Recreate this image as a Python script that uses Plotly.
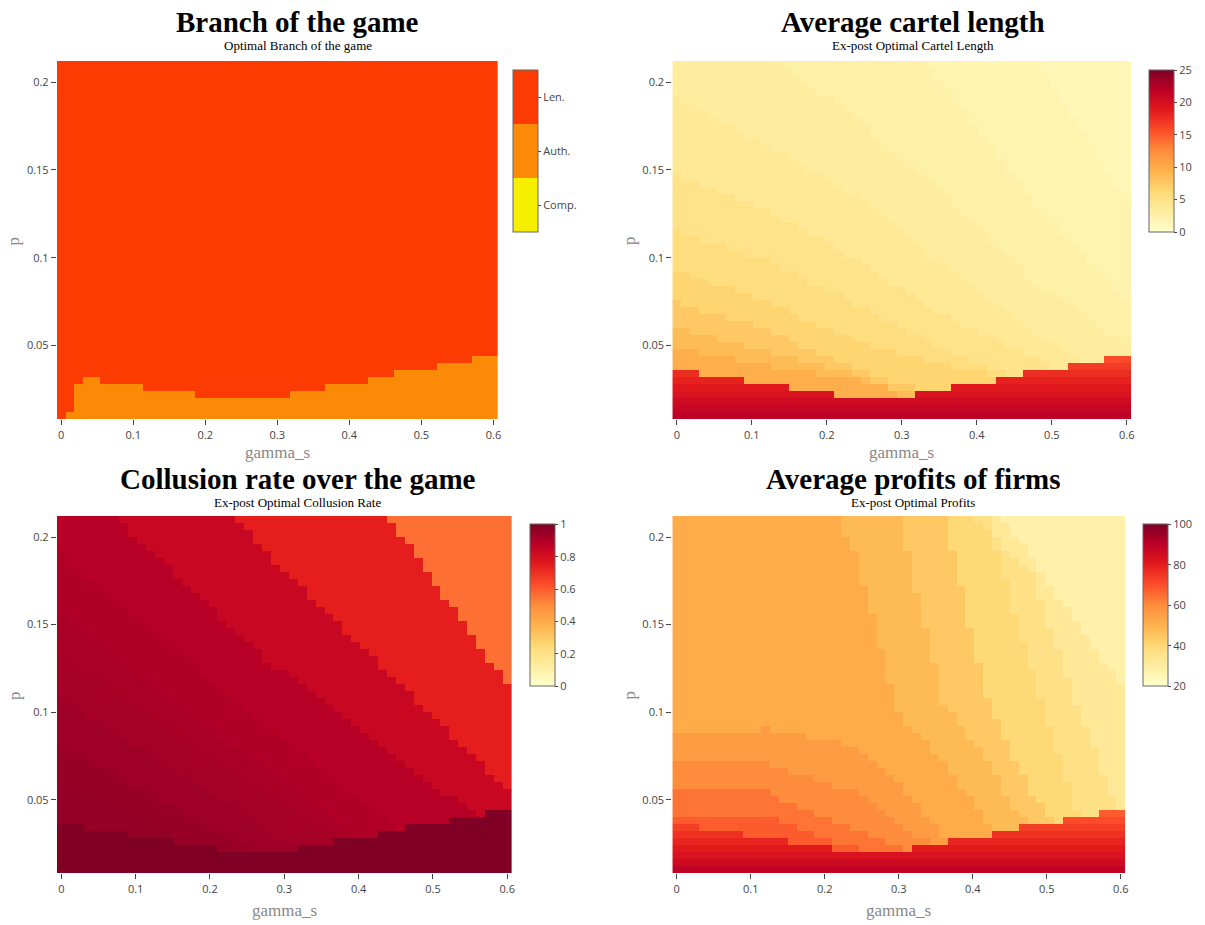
import numpy as np
import plotly.graph_objects as go
import plotly.colors as pc

W, H = 1205, 925

# ---------------------------------------------------------------- grid
gamma_s = [round(0.012 * k, 3) for k in range(51)]
p_vals = [round(0.01 + 0.004 * k, 3) for k in range(51)]

# rows (counted from p = 0.01) where the authority branch is optimal
auth_rows = [0, 1, 5, 6, 6, 5, 5, 5, 5, 5,
             4, 4, 4, 4, 4, 4, 3, 3, 3, 3,
             3, 3, 3, 3, 3, 3, 3, 4, 4, 4,
             4, 5, 5, 5, 5, 5, 6, 6, 6, 7,
             7, 7, 7, 7, 8, 8, 8, 8, 9, 9, 9]

# rows (counted from p = 0.01) of the ex-post high-collusion region
high_rows = [7, 7, 7, 6, 6, 6, 6, 6, 5, 5,
             5, 5, 5, 4, 4, 4, 4, 4, 3, 3,
             3, 3, 3, 3, 3, 3, 3, 4, 4, 4,
             4, 5, 5, 5, 5, 5, 6, 6, 6, 7,
             7, 7, 7, 7, 8, 8, 8, 8, 9, 9, 9]

branch_names = ["Comp.", "Auth.", "Len."]

# ---------------------------------------------------------------- cartel length
length_levels = [1.5, 2.0, 2.6, 3.2, 3.9, 4.7, 5.6, 6.6, 7.6, 8.6, 9.6]
length_high = [21.8, 21.2, 20.5, 19.6, 19.0, 18.3, 17.6, 16.7, 15.8]
length_iso = [
    ([0, 0.456, 0.6], [0.288, 0.228, 0.134]),
    ([0, 0.324, 0.36, 0.48, 0.6], [0.328, 0.212, 0.196, 0.129, 0.076]),
    ([0, 0.132, 0.24, 0.36, 0.48, 0.6], [0.248, 0.212, 0.179, 0.134, 0.085, 0.051]),
    ([0, 0.12, 0.24, 0.36, 0.48, 0.6], [0.191, 0.164, 0.134, 0.094, 0.056, 0.028]),
    ([0, 0.12, 0.24, 0.36, 0.48, 0.6], [0.148, 0.127, 0.099, 0.066, 0.042, 0.008]),
    ([0, 0.12, 0.24, 0.36, 0.48, 0.6], [0.114, 0.098, 0.073, 0.047, 0.028, 0.008]),
    ([0, 0.12, 0.24, 0.36, 0.432, 0.6], [0.093, 0.075, 0.052, 0.038, 0.032, 0.008]),
    ([0, 0.12, 0.24, 0.312, 0.36, 0.6], [0.074, 0.059, 0.036, 0.026, 0.020, 0.008]),
    ([0, 0.12, 0.24, 0.3, 0.36, 0.6], [0.060, 0.047, 0.033, 0.024, 0.016, 0.008]),
    ([0, 0.12, 0.24, 0.276, 0.312, 0.6], [0.049, 0.038, 0.030, 0.026, 0.016, 0.008]),
]

# ---------------------------------------------------------------- collusion rate
collusion_levels = [0.56, 0.74, 0.84, 0.885, 0.90, 0.912, 0.924, 0.936, 0.948, 0.958]
collusion_high = [1.0, 1.0, 1.0, 1.0, 1.0, 1.0, 1.0, 1.0, 1.0]
collusion_iso = [
    ([0, 0.438, 0.606], [0.472, 0.212, 0.112]),
    ([0, 0.234, 0.282, 0.6], [0.328, 0.212, 0.188, 0.056]),
    ([0, 0.071, 0.269, 0.528, 0.6], [0.240, 0.212, 0.132, 0.050, 0.028]),
    ([0, 0.293, 0.456, 0.6], [0.190, 0.086, 0.032, 0.008]),
    ([0, 0.24, 0.408, 0.6], [0.154, 0.078, 0.025, 0.008]),
    ([0, 0.24, 0.396, 0.6], [0.132, 0.064, 0.020, 0.008]),
    ([0, 0.24, 0.324, 0.6], [0.107, 0.043, 0.020, 0.008]),
    ([0, 0.18, 0.264, 0.6], [0.080, 0.038, 0.020, 0.008]),
    ([0, 0.204, 0.6], [0.060, 0.019, 0.008]),
]

# ---------------------------------------------------------------- profits
profit_levels = [28, 32, 36, 40, 44, 48, 52, 56, 60, 64, 68]
profit_high = [89, 86, 83, 80.5, 78, 75.5, 73, 70.5, 68]
profit_iso = [
    ([0, 0.438, 0.606], [0.488, 0.212, 0.112]),
    ([0, 0.396, 0.48, 0.54, 0.6], [0.408, 0.212, 0.180, 0.104, 0.040]),
    ([0, 0.42, 0.48, 0.54, 0.6], [0.408, 0.212, 0.122, 0.044, 0.008]),
    ([0, 0.36, 0.42, 0.48, 0.528, 0.6], [0.408, 0.212, 0.108, 0.051, 0.032, 0.008]),
    ([0, 0.3, 0.36, 0.42, 0.456, 0.504, 0.6], [0.408, 0.212, 0.105, 0.073, 0.044, 0.024, 0.008]),
    ([0, 0.216, 0.24, 0.3, 0.36, 0.42, 0.48, 0.6], [0.408, 0.212, 0.191, 0.099, 0.072, 0.036, 0.020, 0.008]),
    ([0, 0.12, 0.24, 0.3, 0.36, 0.6], [0.088, 0.090, 0.080, 0.060, 0.028, 0.008]),
    ([0, 0.12, 0.24, 0.3, 0.36, 0.6], [0.072, 0.070, 0.054, 0.036, 0.020, 0.008]),
    ([0, 0.12, 0.24, 0.3, 0.36, 0.6], [0.054, 0.054, 0.032, 0.024, 0.008, 0.008]),
    ([0, 0.12, 0.24, 0.6], [0.040, 0.040, 0.022, 0.008]),
]


# ---------------------------------------------------------------- build matrices
def branch_matrix():
    z = np.full((len(p_vals), len(gamma_s)), 2)
    for j, n in enumerate(auth_rows):
        z[:n, j] = 1
    return z


def banded_matrix(levels, iso, high_vals):
    g = np.array(gamma_s)
    pv = np.array(p_vals)
    bounds = [np.interp(g, gx, py) for gx, py in iso]
    n = len(iso)
    z = np.empty((len(pv), len(g)))
    for j in range(len(g)):
        for i in range(len(pv)):
            if i < high_rows[j]:
                z[i, j] = high_vals[i]
            else:
                below = sum(1 for b in bounds if b[j] < pv[i])
                z[i, j] = levels[n - below]
    return z


z_branch = branch_matrix()
z_length = banded_matrix(length_levels, length_iso, length_high)
z_collusion = banded_matrix(collusion_levels, collusion_iso, collusion_high)
z_profit = banded_matrix(profit_levels, profit_iso, profit_high)

# ---------------------------------------------------------------- styling
SERIF = "Liberation Serif, Times New Roman, serif"
SANS = "Open Sans, DejaVu Sans, sans-serif"
ylorrd = pc.sequential.YlOrRd
n_col = len(ylorrd)
ylorrd_scale = [[k / (n_col - 1), c] for k, c in enumerate(ylorrd)]

c_comp, c_auth, c_len = "#f7ef02", "#fb8b06", "#fc3b02"
branch_scale = [[0, c_comp], [1 / 3, c_comp], [1 / 3, c_auth], [2 / 3, c_auth],
                [2 / 3, c_len], [1, c_len]]

# plot areas in pixels: (left, right, top, bottom)
areas = [(57, 499, 61, 419.3), (674, 1134, 61, 419.3),
         (57, 513, 516, 873.3), (674, 1128, 516, 873.3)]
cbar_left = [514, 1152, 531, 1146]
cbar_top = [70, 70, 524.3, 524.3]


def colorbar(k, **extra):
    cb = dict(x=cbar_left[k] / W, xanchor="left", xpad=0,
              y=1 - cbar_top[k] / H, yanchor="top", ypad=0,
              len=162, lenmode="pixels", thickness=25, thicknessmode="pixels",
              outlinewidth=1, outlinecolor="#666",
              ticks="outside", ticklen=3, tickcolor="#444",
              tickfont=dict(family=SANS, size=11, color="#444"))
    cb.update(extra)
    return cb


fig = go.Figure()
fig.add_trace(go.Heatmap(
    x=gamma_s, y=p_vals, z=z_branch, zmin=0, zmax=2, colorscale=branch_scale,
    colorbar=colorbar(0, tickvals=[1 / 3, 1, 5 / 3], ticktext=branch_names),
    xaxis="x", yaxis="y", hoverinfo="skip"))
fig.add_trace(go.Heatmap(
    x=gamma_s, y=p_vals, z=z_length, zmin=0, zmax=25, colorscale=ylorrd_scale,
    colorbar=colorbar(1, tickvals=[0, 5, 10, 15, 20, 25]),
    xaxis="x2", yaxis="y2", hoverinfo="skip"))
fig.add_trace(go.Heatmap(
    x=gamma_s, y=p_vals, z=z_collusion, zmin=0, zmax=1, colorscale=ylorrd_scale,
    colorbar=colorbar(2, tickvals=[0, 0.2, 0.4, 0.6, 0.8, 1]),
    xaxis="x3", yaxis="y3", hoverinfo="skip"))
fig.add_trace(go.Heatmap(
    x=gamma_s, y=p_vals, z=z_profit, zmin=20, zmax=100, colorscale=ylorrd_scale,
    colorbar=colorbar(3, tickvals=[20, 40, 60, 80, 100]),
    xaxis="x4", yaxis="y4", hoverinfo="skip"))

axis_common = dict(showgrid=False, zeroline=False, showline=False,
                   ticks="outside", ticklen=5, tickcolor="#444",
                   tickfont=dict(family=SANS, size=11, color="#444"))

layout = dict(width=W, height=H, margin=dict(l=0, r=0, t=0, b=0),
              paper_bgcolor="white", plot_bgcolor="white", showlegend=False)
for k, (l, r, t, b) in enumerate(areas):
    sx = "" if k == 0 else str(k + 1)
    layout["xaxis" + sx] = dict(axis_common, domain=[l / W, r / W],
                                range=[-0.006, 0.606], tick0=0, dtick=0.1,
                                anchor="y" + sx)
    layout["yaxis" + sx] = dict(axis_common, domain=[1 - b / H, 1 - t / H],
                                range=[0.008, 0.212], tick0=0, dtick=0.05,
                                anchor="x" + sx)
fig.update_layout(**layout)

titles = ["Branch of the game", "Average cartel length",
          "Collusion rate over the game", "Average profits of firms"]
subtitles = ["Optimal Branch of the game", "Ex-post Optimal Cartel Length",
             "Ex-post Optimal Collusion Rate", "Ex-post Optimal Profits"]
title_cx = [298.5, 915, 298.5, 915]
title_cy = [22.5, 22.5, 479, 479]
xtitle_gap = [33, 33, 37, 37]

annotations = []
for k in range(4):
    l, r, t, b = areas[k]
    annotations.append(dict(text="<b>" + titles[k] + "</b>", x=title_cx[k] / W,
                            y=1 - title_cy[k] / H, xref="paper", yref="paper",
                            showarrow=False, xanchor="center", yanchor="middle",
                            font=dict(family=SERIF, size=29, color="black")))
    annotations.append(dict(text=subtitles[k], x=title_cx[k] / W,
                            y=1 - (title_cy[k] + 23) / H, xref="paper", yref="paper",
                            showarrow=False, xanchor="center", yanchor="middle",
                            font=dict(family=SERIF, size=13, color="black")))
    annotations.append(dict(text="gamma_s", x=(l + r) / 2 / W,
                            y=1 - (b + xtitle_gap[k]) / H,
                            xref="paper", yref="paper", showarrow=False,
                            xanchor="center", yanchor="middle",
                            font=dict(family=SERIF, size=17, color="#888")))
    annotations.append(dict(text="p", x=(l - 43) / W, y=1 - ((t + b) / 2 + 0.5) / H,
                            xref="paper", yref="paper", showarrow=False,
                            xanchor="center", yanchor="middle", textangle=-90,
                            font=dict(family=SERIF, size=17, color="#888")))
fig.update_layout(annotations=annotations)

fig.write_html("out.html")
